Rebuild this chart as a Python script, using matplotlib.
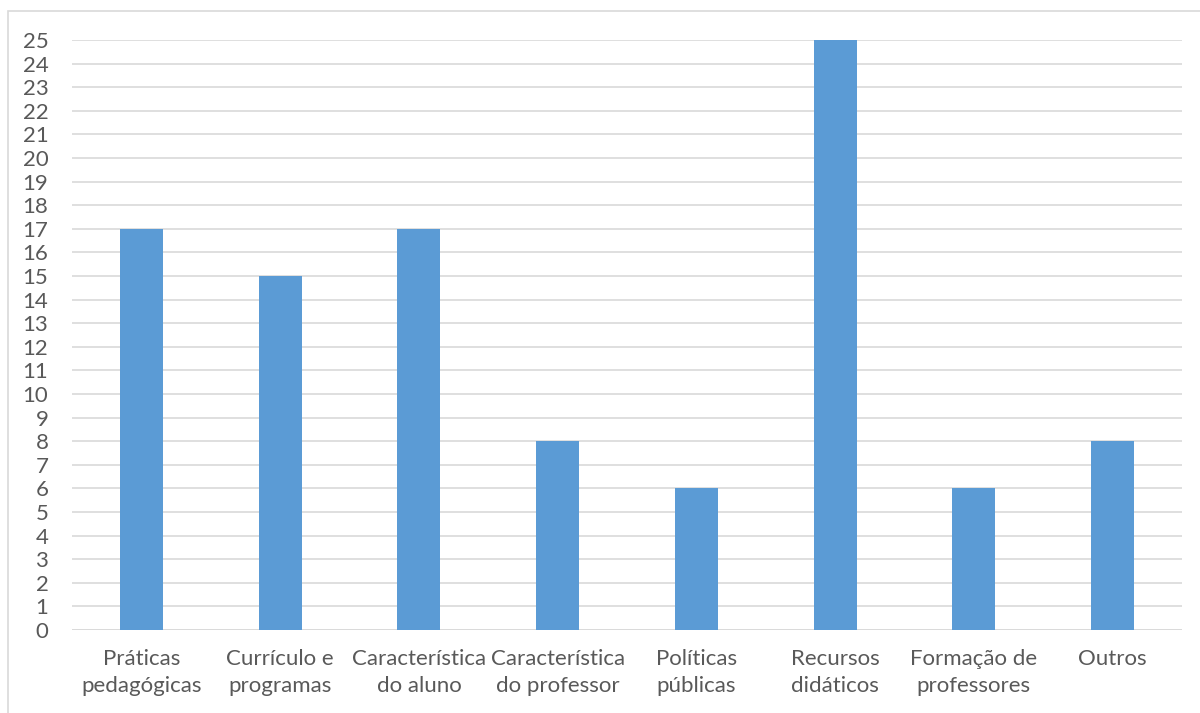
import matplotlib.pyplot as plt
from matplotlib.patches import Rectangle

# data
categories = ['Práticas\npedagógicas', 'Currículo e\nprogramas', 'Característica\ndo aluno',
              'Característica\ndo professor', 'Políticas\npúblicas', 'Recursos\ndidáticos',
              'Formação de\nprofessores', 'Outros']
counts = [17, 15, 17, 8, 6, 25, 6, 8]

BAR = '#5B9BD5'
GRID = '#D9D9D9'
TEXT = '#595959'

plt.rcParams['font.family'] = ['Lato', 'DejaVu Sans']

fig = plt.figure(figsize=(12, 7.13), dpi=100)
W, H = 1200, 713
ax = fig.add_axes([72 / W, 1 - 630 / H, (1182 - 72) / W, (630 - 40) / H])

x = range(len(categories))
ax.bar(x, counts, width=0.31, color=BAR, zorder=3)

ax.set_xlim(-0.5, len(categories) - 0.5)
ax.set_ylim(0, 25)
ax.set_yticks(range(0, 26))
ax.set_xticks(list(x))
ax.set_xticklabels(categories, fontsize=16, color=TEXT, linespacing=1.4)
ax.tick_params(axis='y', labelsize=16, labelcolor=TEXT, length=0, pad=17)
ax.tick_params(axis='x', length=0, pad=14)

ax.grid(axis='y', color=GRID, linewidth=1.2, zorder=0)
for s in ax.spines.values():
    s.set_visible(False)
ax.axhline(0, color=GRID, linewidth=1.2, zorder=1)

# outer chart border (only top and left edges fall inside the image)
fig.patches.append(Rectangle((8 / W, -0.1), 1.2, 1 - 11 / H + 0.1, transform=fig.transFigure,
                             fill=False, edgecolor=GRID, linewidth=1.2))

fig.savefig('out.png', dpi=100)
